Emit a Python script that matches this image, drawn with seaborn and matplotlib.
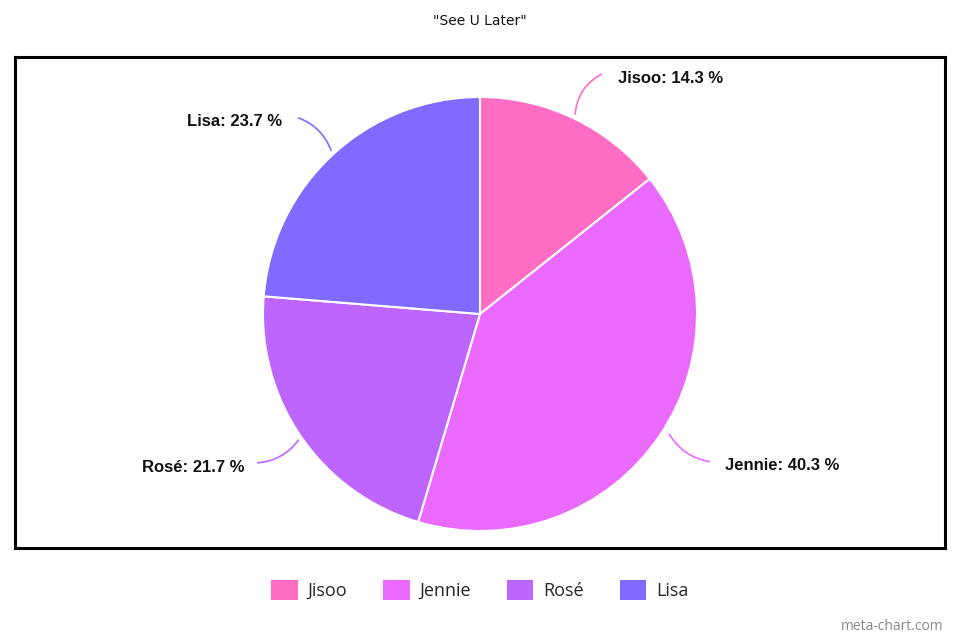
import matplotlib
matplotlib.use("Agg")
import matplotlib.pyplot as plt
import seaborn as sns
from matplotlib.patches import Patch

members = ["Jisoo", "Jennie", "Rosé", "Lisa"]
shares = [14.3, 40.3, 21.7, 23.7]
colors = ["#FF6CC4", "#EA6AFE", "#BD66FF", "#806AFF"]
title = "\"See U Later\""

sns.set_style("white")
plt.rcParams['font.family'] = ['Liberation Sans', 'DejaVu Sans']

fig = plt.figure(figsize=(9.6, 6.4), dpi=100)
W, H = 960, 640
# axes spanning the bordered box, data coords = pixels (y up)
x0, x1, yt, yb = 15, 945, 57, 548
ax = fig.add_axes([x0 / W, 1 - yb / H, (x1 - x0) / W, (yb - yt) / H])
ax.set_xlim(x0, x1)
ax.set_ylim(H - yb, H - yt)
ax.set_aspect('equal')

cx, cy, r = 480, H - 314, 217
wedges, _ = ax.pie(shares, colors=colors, startangle=90, counterclock=False,
                   center=(cx, cy), radius=r, frame=True,
                   wedgeprops=dict(edgecolor='white', linewidth=1.5))
ax.set_xlim(x0, x1)
ax.set_ylim(H - yb, H - yt)
ax.set_xticks([]); ax.set_yticks([])
for s in ax.spines.values():
    s.set_visible(True)
    s.set_color('black')
    s.set_linewidth(2.2)

# labels with curved connectors (pixel positions)
label_specs = [
    # text pos, ha, connector start(at pie edge), connector end, rad
    ((618, 78), 'left', (575, 117), (604, 73), -0.3),
    ((725, 466), 'left', (668, 432), (712, 462), 0.25),
    ((245, 468), 'right', (300, 438), (255, 463), -0.25),
    ((282, 121), 'right', (332, 153), (296, 117), 0.25),
]
for name, val, col, (tp, ha, p0, p1, rad) in zip(members, shares, colors, label_specs):
    ax.annotate("", xy=(p1[0], H - p1[1]), xytext=(p0[0], H - p0[1]),
                arrowprops=dict(arrowstyle='-', color=col, lw=1.2,
                                connectionstyle=f"arc3,rad={rad}"))
    ax.text(tp[0], H - tp[1], f"{name}: {val} %", ha=ha, va='center',
            fontsize=12, fontweight='bold', color='#111111')

fig.text(0.5, 1 - 21 / H, title, ha='center', va='center', fontsize=10,
         color='#111111', family=['DejaVu Sans'])

handles = [Patch(facecolor=c, edgecolor='none') for c in colors]
fig.legend(handles, members, loc='center', bbox_to_anchor=(0.5, 1 - 590 / H),
           ncol=4, frameon=False, handlelength=1.45, handleheight=1.4,
           columnspacing=2.0, handletextpad=0.55,
           prop={'family': ['Open Sans', 'DejaVu Sans'], 'size': 13})

fig.text(943 / W, 1 - 627 / H, "meta-chart.com", ha='right', va='center',
         fontsize=10, color='#888888', family=['Open Sans', 'DejaVu Sans'])

fig.savefig("out.png", dpi=100, facecolor='white')
